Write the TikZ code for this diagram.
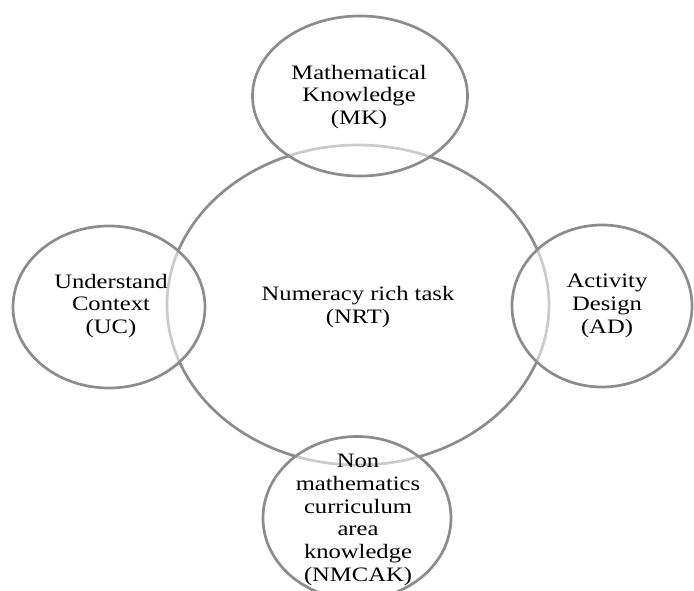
\documentclass[tikz,border=0pt]{standalone}
\usepackage{fontspec}
\setmainfont{Liberation Serif}
\usepackage{xcolor}
\usetikzlibrary{shapes.geometric}

\definecolor{ringgray}{RGB}{140,140,140}

\tikzset{
    ring/.style={ellipse, draw=ringgray, line width=2.7pt, inner sep=0pt},
    petal/.style={ring, fill=white, fill opacity=0.55, draw opacity=1},
    lbl/.style={align=center, xscale=1.2, font=\fontsize{20.5}{22.8}\selectfont}
}

\begin{document}
\begin{tikzpicture}[x=1pt, y=1pt]
    \useasboundingbox (0,0) rectangle (694,-591);

    \node[ring, minimum width=382pt, minimum height=320pt] (nrt) at (358,-305) {};

    \node[petal, minimum width=215pt, minimum height=160pt] (mk) at (360,-96) {};
    \node[petal, minimum width=192pt, minimum height=162pt] (uc) at (109,-307) {};
    \node[petal, minimum width=180pt, minimum height=162pt] (ad) at (602,-306) {};
    \node[petal, minimum width=188pt, minimum height=163pt] (nmcak) at (357,-518) {};

    \node[lbl] (nrttext) at (358,-307) {Numeracy rich task\\(NRT)};
    \node[lbl] (mktext) at (359,-97) {Mathematical\\Knowledge\\(MK)};
    \node[lbl] (uctext) at (111,-306) {Understand\\Context\\(UC)};
    \node[lbl] (adtext) at (607,-306) {Activity\\Design\\(AD)};
    \node[lbl] (nmcaktext) at (358,-520) {Non\\mathematics\\curriculum\\area\\knowledge\\(NMCAK)};
\end{tikzpicture}
\end{document}
